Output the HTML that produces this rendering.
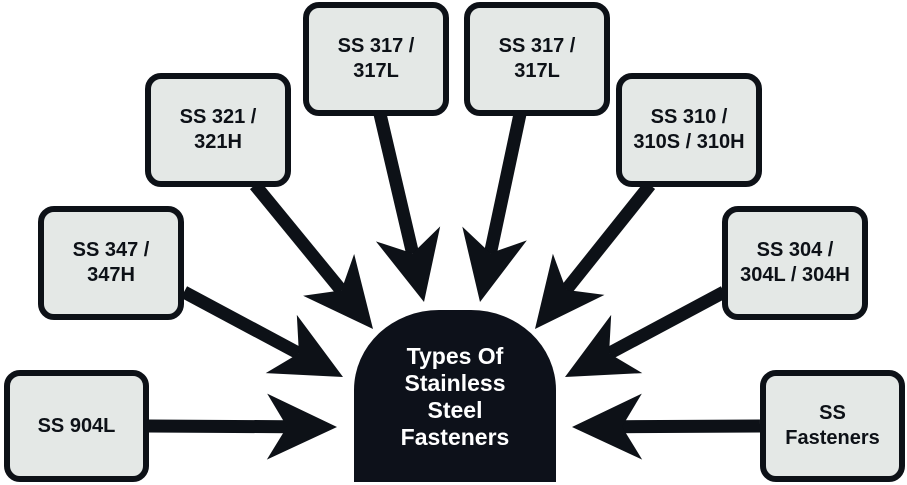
<!DOCTYPE html>
<html><head><meta charset="utf-8"><style>
body{margin:0;width:907px;height:485px;background:#fff;position:relative;overflow:hidden;font-family:"Liberation Sans",Arial,sans-serif}
.b{position:absolute;box-sizing:border-box;border:6px solid #0d1117;border-radius:16px;background:#e4e8e6;display:flex;align-items:center;justify-content:center;text-align:center;font-weight:bold;font-size:20px;line-height:25px;color:#0d1117;width:146px;height:114px}
.c{position:absolute;left:354px;top:310px;width:202px;height:172px;background:#0d111a;border-radius:85px 85px 0 0/80px 80px 0 0;color:#fff;font-weight:bold;font-size:23px;line-height:27px;text-align:center;box-sizing:border-box;padding-top:33px}
svg{position:absolute;left:0;top:0}
</style></head><body>
<svg id="s" width="907" height="485"></svg>
<div class="b" style="left:303px;top:2px">SS 317 /<br>317L</div>
<div class="b" style="left:145px;top:73px">SS 321 /<br>321H</div>
<div class="b" style="left:38px;top:206px">SS 347 /<br>347H</div>
<div class="b" style="left:4px;top:370px;width:145px;height:112px">SS 904L</div>
<div class="b" style="left:464px;top:2px">SS 317 /<br>317L</div>
<div class="b" style="left:616px;top:73px">SS 310 /<br>310S / 310H</div>
<div class="b" style="left:722px;top:206px">SS 304 /<br>304L / 304H</div>
<div class="b" style="left:760px;top:370px;width:145px;height:112px">SS<br>Fasteners</div>
<div class="c">Types Of<br>Stainless<br>Steel<br>Fasteners</div>
<script>
var A=[[148,426,337,427],[760,426,572,427],[184,292,343,377],[255,185,373,329],[380,114,424,302],[520,114,480,302],[650,185,535,329],[724,292,565,377]];
var s='',L=70,W=33,N=20;
A.forEach(function(a){var dx=a[2]-a[0],dy=a[3]-a[1],l=Math.hypot(dx,dy),ux=dx/l,uy=dy/l,nx=-uy,ny=ux,tx=a[2],ty=a[3];
var bx=tx-L*ux,by=ty-L*uy,mx=tx-(L-N)*ux,my=ty-(L-N)*uy;
s+='<line x1="'+a[0]+'" y1="'+a[1]+'" x2="'+mx+'" y2="'+my+'" stroke="#0d1117" stroke-width="13"/>';
s+='<polygon fill="#0d1117" points="'+tx+','+ty+' '+(bx+W*nx)+','+(by+W*ny)+' '+mx+','+my+' '+(bx-W*nx)+','+(by-W*ny)+'"/>';});
document.getElementById('s').innerHTML=s;
</script>
</body></html>
